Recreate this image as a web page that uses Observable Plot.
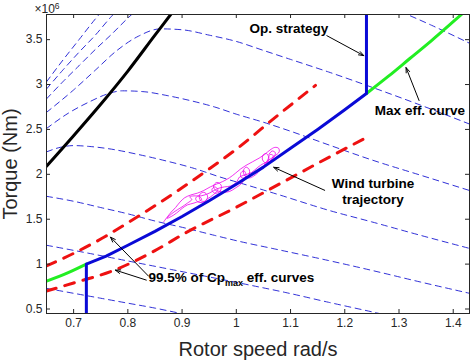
<!DOCTYPE html>
<html>
<head>
<meta charset="utf-8">
<script src="https://cdn.jsdelivr.net/npm/d3@7"></script>
<script src="https://cdn.jsdelivr.net/npm/@observablehq/plot@0.6"></script>
<style>
  html, body { margin: 0; padding: 0; background: #fff; }
  #chart svg { display: block; }
</style>
</head>
<body>
<div id="chart"></div>
<script>
// Rotor speed (rad/s) against rotor torque (in units of 10^6 Nm)

const xTicks = [0.7, 0.8, 0.9, 1, 1.1, 1.2, 1.3, 1.4];
const xTickLabels = ["0.7", "0.8", "0.9", "1", "1.1", "1.2", "1.3", "1.4"];
const yTicks = [0.5, 1, 1.5, 2, 2.5, 3, 3.5];
const yTickLabels = ["0.5", "1", "1.5", "2", "2.5", "3", "3.5"];

// Torque–speed curves at constant wind speed (thin dashed)
const windCurve1 = [[0.65,3.03],[0.68,3.27],[0.71,3.50],[0.74,3.73],[0.76,3.87]];
const windCurve2 = [[0.65,2.95],[0.68,3.16],[0.71,3.36],[0.74,3.55],[0.77,3.76],[0.79,3.88]];
const windCurve3 = [[0.65,2.84],[0.68,3.03],[0.71,3.21],[0.74,3.39],[0.77,3.56],[0.80,3.74],[0.82,3.85]];
const windCurve4 = [[0.65,2.69],[0.70,2.94],[0.74,3.16],[0.78,3.38],[0.82,3.54],[0.86,3.62],[0.90,3.61],[0.95,3.55],[1.00,3.48],[1.05,3.38],[1.10,3.28],[1.17,3.14],[1.25,2.97],[1.34,2.77],[1.43,2.56]];
const windCurve5 = [[0.65,2.51],[0.69,2.68],[0.73,2.81],[0.76,2.89],[0.79,2.93],[0.83,2.92],[0.87,2.88],[0.916,2.82],[0.96,2.75],[1.00,2.67],[1.05,2.58],[1.10,2.48],[1.174,2.32],[1.25,2.16],[1.34,1.99],[1.43,1.82]];
const windCurve6 = [[0.65,2.25],[0.675,2.30],[0.70,2.32],[0.73,2.31],[0.77,2.28],[0.82,2.22],[0.87,2.15],[0.92,2.07],[0.97,1.97],[1.02,1.88],[1.08,1.77],[1.17,1.60],[1.25,1.47],[1.34,1.32],[1.43,1.175]];
const windCurve7 = [[0.65,1.755],[0.70,1.70],[0.75,1.63],[0.80,1.56],[0.85,1.48],[0.907,1.40],[0.96,1.32],[1.008,1.25],[1.07,1.17],[1.17,1.04],[1.25,0.93],[1.34,0.80],[1.43,0.675]];
const windCurve8 = [[0.65,1.21],[0.72,1.13],[0.80,1.035],[0.88,0.94],[0.96,0.845],[1.03,0.76],[1.09,0.685],[1.17,0.575],[1.26,0.455],[1.30,0.40]];
const windCurve9 = [[0.65,0.73],[0.70,0.675],[0.75,0.62],[0.80,0.565],[0.85,0.51],[0.89,0.46],[0.92,0.42]];
const windCurve10 = [[1.25,3.95],[1.30,3.82],[1.36,3.66],[1.43,3.46]];

// Torque limit (solid black)
const limitCurve = [[0.65,2.09],[0.70,2.43],[0.75,2.78],[0.80,3.15],[0.85,3.55],[0.879,3.78],[0.90,3.95]];

// 99.5% of Cp_max efficiency bounds (thick red dashed)
const cpUpper = [[0.65,0.98],[0.70,1.12],[0.759,1.31],[0.80,1.46],[0.85,1.65],[0.90,1.85],[0.95,2.06],[1.00,2.28],[1.073,2.64],[1.146,2.99]];
const cpLower = [[0.65,0.70],[0.70,0.79],[0.774,0.93],[0.85,1.15],[0.907,1.35],[0.999,1.63],[1.091,1.93],[1.174,2.20],[1.237,2.40]];

// Maximum efficiency curve (green), outside the operating band
const maxEffLow = [[0.65,0.81],[0.69,0.905],[0.7235,1.0]];
const maxEffHigh = [[1.24,2.90],[1.28,3.09],[1.32,3.29],[1.36,3.49],[1.40,3.70],[1.43,3.86]];

// Operating strategy (solid blue)
const opStrategy = [[0.7235,0.40],[0.7235,1.0],[0.76,1.09],[0.80,1.21],[0.85,1.365],[0.90,1.53],[0.95,1.705],[1.00,1.89],[1.05,2.08],[1.10,2.29],[1.15,2.50],[1.20,2.72],[1.24,2.90],[1.24,3.85]];

// Simulated wind turbine trajectory (magenta)
const trajectory = [
  [0.866,1.47],[0.872,1.52],[0.880,1.58],[0.888,1.63],[0.896,1.69],[0.905,1.74],[0.916,1.77],[0.928,1.79],[0.940,1.82],[0.952,1.86],[0.963,1.89],[0.975,1.92],[0.987,1.96],[0.998,2.01],[1.008,2.06],[1.018,2.10],[1.030,2.14],[1.042,2.18],[1.052,2.22],[1.062,2.27],[1.071,2.30],[1.078,2.29],[1.079,2.25],
  [1.070,2.20],[1.060,2.16],[1.053,2.13],[1.048,2.17],[1.050,2.22],[1.056,2.23],[1.060,2.18],[1.057,2.12],
  [1.064,2.16],[1.068,2.21],[1.062,2.22],[1.058,2.16],
  [1.048,2.08],[1.040,2.02],[1.032,1.98],
  [1.024,1.96],[1.016,1.98],[1.013,2.04],[1.018,2.08],[1.024,2.05],[1.022,1.98],[1.010,1.96],[1.008,2.01],[1.014,2.04],[1.018,1.99],
  [1.010,1.90],[0.999,1.85],[0.988,1.81],[0.976,1.80],
  [0.970,1.81],[0.962,1.82],[0.958,1.87],[0.964,1.91],[0.972,1.88],[0.970,1.81],[0.960,1.79],[0.955,1.83],[0.960,1.86],[0.966,1.83],
  [0.955,1.76],[0.945,1.72],
  [0.942,1.70],[0.934,1.71],[0.932,1.77],[0.940,1.80],[0.947,1.76],[0.943,1.70],[0.930,1.69],[0.925,1.73],[0.930,1.76],[0.936,1.72],
  [0.922,1.68],[0.910,1.66],[0.900,1.62],[0.890,1.57],[0.880,1.53],[0.872,1.51],
  [0.885,1.58],[0.898,1.63],[0.910,1.68],[0.918,1.72],[0.914,1.75],[0.922,1.76],[0.935,1.76],[0.950,1.79],[0.965,1.84],[0.978,1.86],[0.990,1.87],[1.000,1.91],[1.006,1.97],[1.014,1.99],[1.028,2.02],[1.040,2.08],[1.050,2.12],[1.060,2.14],[1.068,2.18],[1.072,2.24],[1.066,2.26],[1.060,2.22]
];

// Labels and their pointers (data coordinates)
const cpLabel = "99.5% of Cpmax eff. curves";
const centredLabels = [
  {text: "Op. strategy", x: 1.097, y: 3.633},
  {text: "Max eff. curve", x: 1.3385, y: 2.722},
  {text: "Wind turbine\ntrajectory", x: 1.252, y: 1.817}
];
const startLabels = [{text: cpLabel, x: 0.838, y: 0.844}];
const pointers = [
  {x1: 1.167, y1: 3.544, x2: 1.235, y2: 3.322},
  {x1: 1.337, y1: 2.822, x2: 1.313, y2: 3.189},
  {x1: 1.163, y1: 1.822, x2: 1.069, y2: 2.078},
  {x1: 0.838, y1: 0.867, x2: 0.768, y2: 1.300},
  {x1: 0.834, y1: 0.822, x2: 0.777, y2: 0.933}
];

const toRows = (pts, key) => pts.map(([x, y]) => ({x, y, key}));
const windRows = [windCurve1, windCurve2, windCurve3, windCurve4, windCurve5, windCurve6, windCurve7, windCurve8, windCurve9, windCurve10]
  .flatMap((c, i) => toRows(c, i));
const cpRows = [...toRows(cpUpper, "upper"), ...toRows(cpLower, "lower")];
const greenRows = [...toRows(maxEffLow, "low"), ...toRows(maxEffHigh, "high")];

const axisColor = "#262626";
const font = "'Liberation Sans', Arial, Helvetica, sans-serif";

const chart = Plot.plot({
  width: 471,
  height: 360,
  marginLeft: 46,
  marginRight: 2,
  marginTop: 14,
  marginBottom: 47,
  style: {fontFamily: font, fontSize: "12px", background: "#fff", overflow: "visible"},
  x: {domain: [0.65, 1.43], axis: null},
  y: {domain: [0.45, 3.78], axis: null},
  marks: [
    Plot.line(windRows, {x: "x", y: "y", z: "key", stroke: "#1a1ad2", strokeWidth: 0.9, strokeDasharray: "6,4.5", curve: "monotone-x", clip: true}),
    Plot.line(limitCurve.map(([x, y]) => ({x, y})), {x: "x", y: "y", stroke: "#000", strokeWidth: 3, curve: "monotone-x", clip: true}),
    Plot.line(cpRows, {x: "x", y: "y", z: "key", stroke: "#ee1111", strokeWidth: 3, strokeDasharray: "10,9", curve: "monotone-x", clip: true}),
    Plot.line(trajectory.map(([x, y]) => ({x, y})), {x: "x", y: "y", stroke: "#ee00ee", strokeWidth: 0.8, curve: "catmull-rom", clip: true}),
    Plot.line(greenRows, {x: "x", y: "y", z: "key", stroke: "#22ee22", strokeWidth: 3, curve: "monotone-x", clip: true}),
    Plot.line(opStrategy.map(([x, y]) => ({x, y})), {x: "x", y: "y", stroke: "#0a0ad6", strokeWidth: 3, curve: "linear", clip: true}),

    // box with inward ticks on all four sides
    Plot.frame({stroke: axisColor, strokeWidth: 1}),
    Plot.tickX(xTicks, {x: d => d, insetTop: 295, stroke: axisColor, strokeWidth: 1}),
    Plot.tickX(xTicks, {x: d => d, insetBottom: 295, stroke: axisColor, strokeWidth: 1}),
    Plot.tickY(yTicks, {y: d => d, insetRight: 419, stroke: axisColor, strokeWidth: 1}),
    Plot.tickY(yTicks, {y: d => d, insetLeft: 419, stroke: axisColor, strokeWidth: 1}),
    Plot.axisX({ticks: xTicks, tickFormat: (d, i) => xTickLabels[i], tickSize: 0, tickPadding: 5, label: null, color: axisColor, fontSize: 12}),
    Plot.axisY({ticks: yTicks, tickFormat: (d, i) => yTickLabels[i], tickSize: 0, tickPadding: 4, label: null, color: axisColor, fontSize: 12}),

    // axis titles
    Plot.text(["Rotor speed rad/s"], {frameAnchor: "bottom", dy: 36, textAnchor: "middle", lineAnchor: "middle", fontSize: 20, fill: axisColor, text: d => d}),
    Plot.text(["Torque (Nm)"], {frameAnchor: "left", dx: -35.5, rotate: -90, textAnchor: "middle", lineAnchor: "middle", fontSize: 20, fill: axisColor, text: d => d}),

    // annotations
    Plot.arrow(pointers, {x1: "x1", y1: "y1", x2: "x2", y2: "y2", stroke: "#000", strokeWidth: 1, headLength: 8, headAngle: 40}),
    Plot.text(centredLabels, {x: "x", y: "y", text: "text", textAnchor: "middle", lineAnchor: "middle", lineHeight: 1.2, fontSize: 13.5, fontWeight: "bold", fill: "#000"}),
    Plot.text(startLabels, {x: "x", y: "y", text: "text", textAnchor: "start", lineAnchor: "middle", fontSize: 13.5, fontWeight: "bold", fill: "#000"})
  ]
});

document.getElementById("chart").append(chart);

const svg = d3.select(chart);

// subscript in the Cp label
svg.selectAll("text").filter(function () { return this.textContent === cpLabel; }).each(function () {
  const t = d3.select(this);
  t.text(null);
  t.append("tspan").text("99.5% of Cp");
  t.append("tspan").attr("dy", "4").attr("font-size", "9px").text("max");
  t.append("tspan").attr("dy", "-4").text(" eff. curves");
});

// axis exponent
const expo = svg.append("text")
  .attr("x", 47).attr("y", 12.5)
  .attr("fill", axisColor)
  .attr("font-family", font)
  .attr("font-size", "12px");
expo.append("tspan").text("\u00d710");
expo.append("tspan").attr("dy", "-3.5").attr("font-size", "8.5px").text("6");
</script>
</body>
</html>
